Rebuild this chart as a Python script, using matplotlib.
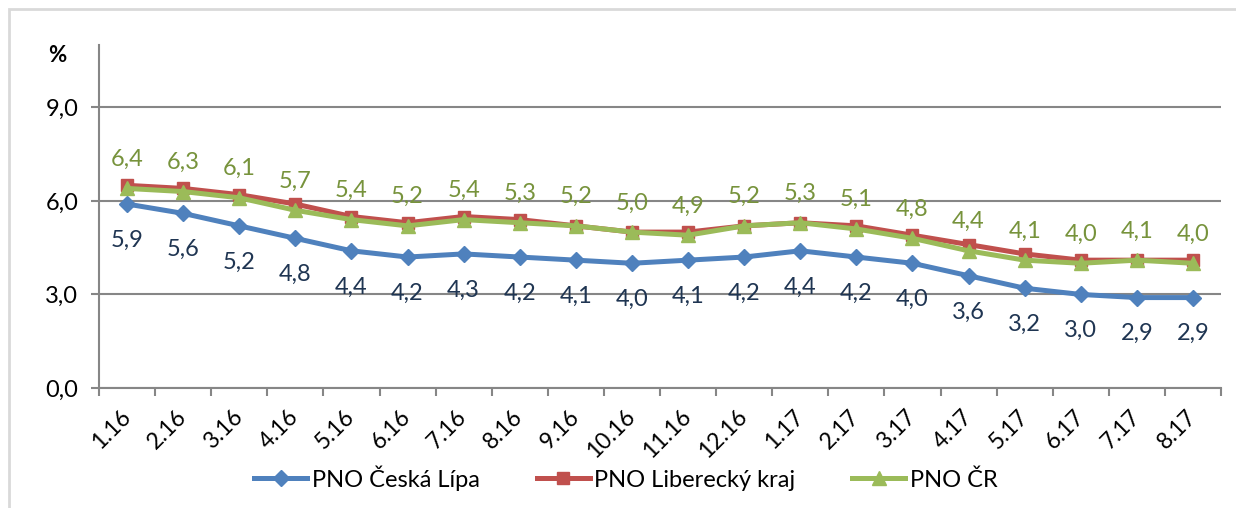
#!/usr/bin/env python3

import matplotlib
matplotlib.use("Agg")
import matplotlib.pyplot as plt
from matplotlib.patches import Rectangle

plt.rcParams['font.family'] = ['Lato', 'DejaVu Sans']

months = ['1.16', '2.16', '3.16', '4.16', '5.16', '6.16', '7.16', '8.16',
          '9.16', '10.16', '11.16', '12.16', '1.17', '2.17', '3.17', '4.17',
          '5.17', '6.17', '7.17', '8.17']
ceska_lipa = [5.9, 5.6, 5.2, 4.8, 4.4, 4.2, 4.3, 4.2, 4.1, 4.0,
              4.1, 4.2, 4.4, 4.2, 4.0, 3.6, 3.2, 3.0, 2.9, 2.9]
liberecky = [6.5, 6.4, 6.2, 5.9, 5.5, 5.3, 5.5, 5.4, 5.2, 5.0,
             5.0, 5.2, 5.3, 5.2, 4.9, 4.6, 4.3, 4.1, 4.1, 4.1]
cr = [6.4, 6.3, 6.1, 5.7, 5.4, 5.2, 5.4, 5.3, 5.2, 5.0,
      4.9, 5.2, 5.3, 5.1, 4.8, 4.4, 4.1, 4.0, 4.1, 4.0]
yticks = [0, 3, 6, 9]


def fmt(v):
    return f"{v:.1f}".replace('.', ',')


fig = plt.figure(figsize=(12.36, 5.08), dpi=100)
ax = fig.add_axes([99 / 1236, 120 / 508, 1122 / 1236, 343 / 508])

# light frame round the chart (only top and left are visible)
fig.patches.append(Rectangle((9 / 1236, -0.1), 1.2, (499 / 508) + 0.1,
                             transform=fig.transFigure, fill=False,
                             edgecolor='#d9d9d9', linewidth=2))

x = list(range(len(months)))
ax.plot(x, ceska_lipa, color='#4f81bd', lw=3.6, marker='D', ms=8,
        label='PNO Česká Lípa', zorder=3)
ax.plot(x, liberecky, color='#c0504d', lw=3.6, marker='s', ms=8.5,
        label='PNO Liberecký kraj', zorder=4)
ax.plot(x, cr, color='#9bbb59', lw=3.6, marker='^', ms=10,
        label='PNO ČR', zorder=5)

for i in x:
    ax.annotate(fmt(cr[i]), (i, cr[i]), xytext=(0, 21), textcoords='offset points',
                ha='center', va='center', fontsize=17, color='#77933c')
    ax.annotate(fmt(ceska_lipa[i]), (i, ceska_lipa[i]), xytext=(0, -26),
                textcoords='offset points', ha='center', va='center',
                fontsize=17, color='#1f3552')

ax.set_xlim(-0.5, len(months) - 0.5)
ax.set_ylim(0, 11)
ax.set_yticks(yticks)
ax.set_yticklabels([fmt(v) for v in yticks], fontsize=17)
ax.yaxis.grid(True, color='#868686', lw=1.5)
ax.set_axisbelow(True)

ax.set_xticks([i - 0.5 for i in range(len(months) + 1)])
ax.set_xticklabels([])
ax.set_xticks(x, minor=True)
ax.set_xticklabels(months, minor=True, rotation=45, ha='right', va='center',
                   rotation_mode='anchor', fontsize=16.5)
ax.tick_params(axis='x', which='minor', length=0, pad=18)
ax.tick_params(axis='x', which='major', length=6, width=1.5, color='#868686')
ax.tick_params(axis='y', length=6, width=1.5, color='#868686', pad=9)

for s in ['top', 'right']:
    ax.spines[s].set_visible(False)
for s in ['left', 'bottom']:
    ax.spines[s].set_color('#868686')
    ax.spines[s].set_linewidth(1.5)

fig.text(57 / 1236, 1 - 56 / 508, '%', fontsize=16, fontweight='bold',
         ha='center', va='center')

fig.legend(loc='center', bbox_to_anchor=(626 / 1236, 30 / 508), ncol=3,
           frameon=False, fontsize=17, handlelength=2.25, handletextpad=0.2,
           columnspacing=2.4)

fig.savefig("out.png", dpi=100)
